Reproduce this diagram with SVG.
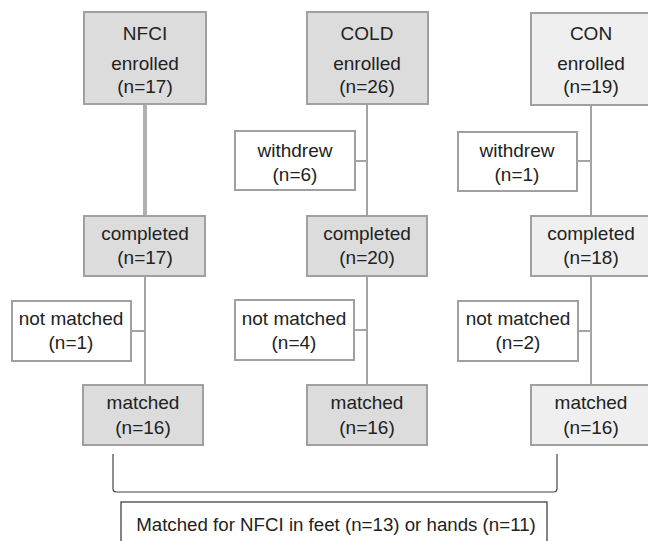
<svg xmlns="http://www.w3.org/2000/svg" width="648" height="541" viewBox="0 0 648 541">
<style>
text{font-family:"Liberation Sans",Arial,sans-serif;font-size:19px;fill:#222;text-anchor:middle}
.g{fill:#dcdcdc;stroke:#a0a0a0;stroke-width:2}
.l{fill:#efefef;stroke:#a0a0a0;stroke-width:2}
.w{fill:#fff;stroke:#a0a0a0;stroke-width:2}
.c{stroke:#a4a4a4;stroke-width:2;fill:none}
</style>
<rect width="648" height="541" fill="#fff"/>
<g id="connectors">
<line class="c" x1="145" y1="104" x2="145" y2="216" style="stroke-width:4;stroke:#b0b0b0"/>
<line class="c" x1="145" y1="276" x2="145" y2="385"/>
<line class="c" x1="131" y1="331" x2="145" y2="331"/>
<line class="c" x1="367" y1="104" x2="367" y2="385"/>
<line class="c" x1="355" y1="161" x2="367" y2="161"/>
<line class="c" x1="354" y1="330" x2="367" y2="330"/>
<line class="c" x1="591" y1="104" x2="591" y2="385"/>
<line class="c" x1="577" y1="161" x2="591" y2="161"/>
<line class="c" x1="578" y1="331" x2="591" y2="331"/>
<path d="M113,454 L113,489 Q113.3,492 116,492 L554,492 Q556.7,492 557,489 L557,454" fill="none" stroke="#444" stroke-width="1.2"/>
</g>
<g id="nfci_enrolled"><rect class="g" x="84" y="12" width="122" height="92"/><text x="145" y="40">NFCI</text><text x="145" y="70">enrolled</text><text x="145" y="93">(n=17)</text></g>
<g id="cold_enrolled"><rect class="g" x="307" y="12" width="121" height="92"/><text x="367" y="40">COLD</text><text x="367" y="70">enrolled</text><text x="367" y="93">(n=26)</text></g>
<g id="con_enrolled"><rect class="l" x="531" y="13" width="120" height="92"/><text x="591" y="40">CON</text><text x="591" y="70">enrolled</text><text x="591" y="93">(n=19)</text></g>
<g id="cold_withdrew"><rect class="w" x="235" y="131" width="120" height="59"/><text x="295" y="157">withdrew</text><text x="295" y="181">(n=6)</text></g>
<g id="con_withdrew"><rect class="w" x="458" y="132" width="119" height="59"/><text x="517" y="157">withdrew</text><text x="517" y="181">(n=1)</text></g>
<g id="nfci_completed"><rect class="g" x="84" y="216" width="121" height="60"/><text x="145" y="240">completed</text><text x="145" y="264">(n=17)</text></g>
<g id="cold_completed"><rect class="g" x="307" y="216" width="120" height="60"/><text x="367" y="240">completed</text><text x="367" y="264">(n=20)</text></g>
<g id="con_completed"><rect class="l" x="531" y="216" width="120" height="60"/><text x="591" y="240">completed</text><text x="591" y="264">(n=18)</text></g>
<g id="nfci_notmatched"><rect class="w" x="12" y="301" width="119" height="60"/><text x="71" y="325">not matched</text><text x="71" y="349">(n=1)</text></g>
<g id="cold_notmatched"><rect class="w" x="235" y="300" width="119" height="60"/><text x="294" y="325">not matched</text><text x="294" y="349">(n=4)</text></g>
<g id="con_notmatched"><rect class="w" x="458" y="301" width="120" height="60"/><text x="518" y="325">not matched</text><text x="518" y="349">(n=2)</text></g>
<g id="nfci_matched"><rect class="g" x="83" y="385" width="120" height="60"/><text x="143" y="409">matched</text><text x="143" y="434">(n=16)</text></g>
<g id="cold_matched"><rect class="g" x="307" y="385" width="120" height="60"/><text x="367" y="409">matched</text><text x="367" y="434">(n=16)</text></g>
<g id="con_matched"><rect class="l" x="531" y="385" width="120" height="60"/><text x="591" y="409">matched</text><text x="591" y="434">(n=16)</text></g>
<g id="summary"><rect x="121" y="502" width="426" height="50" fill="#fff" stroke="#333" stroke-width="1.2"/><text x="336" y="531" style="font-size:18.7px">Matched for NFCI in feet (n=13) or hands (n=11)</text></g>
</svg>
